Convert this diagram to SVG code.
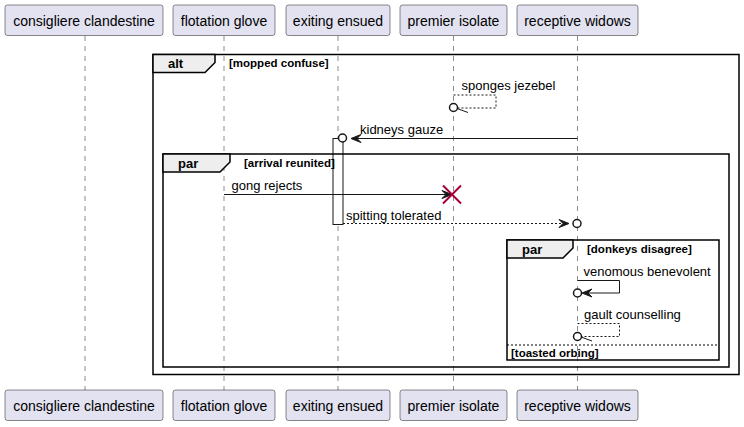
<svg xmlns="http://www.w3.org/2000/svg" width="744" height="427" viewBox="0 0 744 427">
<style>
.pbox{fill:#E2E2F0;stroke:#181818;stroke-width:0.5}
.ptxt{font-family:"Liberation Sans",Arial,sans-serif;font-size:14px;fill:#000;text-anchor:middle}
.life{stroke:#181818;stroke-width:0.5;stroke-dasharray:5,5;fill:none}
.frame{fill:none;stroke:#000;stroke-width:1.5}
.tab{fill:#EEEEEE;stroke:#000;stroke-width:1.5}
.ftitle{font-family:"Liberation Sans",Arial,sans-serif;font-size:13px;font-weight:bold;fill:#000}
.fcond{font-family:"Liberation Sans",Arial,sans-serif;font-size:11.5px;font-weight:bold;fill:#000}
.msg{stroke:#181818;stroke-width:1;fill:none}
.dash{stroke-dasharray:2,2}
.head{fill:#181818;stroke:#181818;stroke-width:1}
.circ{fill:#fff;stroke:#181818;stroke-width:1.5}
.mtxt{font-family:"Liberation Sans",Arial,sans-serif;font-size:13px;fill:#000}
</style>
<g id="lifelines">
<line class="life" x1="85" y1="36" x2="85" y2="390"/>
<line class="life" x1="224" y1="36" x2="224" y2="390"/>
<line class="life" x1="338" y1="36" x2="338" y2="390"/>
<line class="life" x1="453.5" y1="36" x2="453.5" y2="390"/>
<line class="life" x1="577.5" y1="36" x2="577.5" y2="390"/>
</g>
<g id="p1"><rect class="pbox" x="5" y="5" width="158" height="30.5" rx="2.5"/><text class="ptxt" x="84" y="25.5">consigliere clandestine</text>
<rect class="pbox" x="5" y="390" width="158" height="30.5" rx="2.5"/><text class="ptxt" x="84" y="410.5">consigliere clandestine</text></g>
<g id="p2"><rect class="pbox" x="173" y="5" width="102" height="30.5" rx="2.5"/><text class="ptxt" x="224" y="25.5">flotation glove</text>
<rect class="pbox" x="173" y="390" width="102" height="30.5" rx="2.5"/><text class="ptxt" x="224" y="410.5">flotation glove</text></g>
<g id="p3"><rect class="pbox" x="286" y="5" width="104" height="30.5" rx="2.5"/><text class="ptxt" x="338" y="25.5">exiting ensued</text>
<rect class="pbox" x="286" y="390" width="104" height="30.5" rx="2.5"/><text class="ptxt" x="338" y="410.5">exiting ensued</text></g>
<g id="p4"><rect class="pbox" x="400" y="5" width="107" height="30.5" rx="2.5"/><text class="ptxt" x="453.5" y="25.5">premier isolate</text>
<rect class="pbox" x="400" y="390" width="107" height="30.5" rx="2.5"/><text class="ptxt" x="453.5" y="410.5">premier isolate</text></g>
<g id="p5"><rect class="pbox" x="517" y="5" width="121" height="30.5" rx="2.5"/><text class="ptxt" x="577.5" y="25.5">receptive widows</text>
<rect class="pbox" x="517" y="390" width="121" height="30.5" rx="2.5"/><text class="ptxt" x="577.5" y="410.5">receptive widows</text></g>
<g id="activation"><rect x="333" y="138.5" width="10" height="86" fill="#fff" stroke="#181818" stroke-width="1"/></g>
<g id="alt">
<rect class="frame" x="153" y="54.5" width="586" height="320"/>
<path class="tab" d="M153,54.5 H215 V62.5 L205,72.5 H153 Z"/>
<text class="ftitle" x="168" y="68">alt</text>
<text class="fcond" x="229" y="67">[mopped confuse]</text>
</g>
<g id="par1">
<rect class="frame" x="163" y="154" width="566" height="213"/>
<path class="tab" d="M163,154 H230 V162 L220,172 H163 Z"/>
<text class="ftitle" x="178" y="168">par</text>
<text class="fcond" x="244" y="167">[arrival reunited]</text>
</g>
<g id="par2">
<rect class="frame" x="507" y="240" width="212" height="120"/>
<path class="tab" d="M507,240 H573 V248 L563,258 H507 Z"/>
<text class="ftitle" x="522" y="254">par</text>
<text class="fcond" x="587" y="253">[donkeys disagree]</text>
<line x1="507" y1="345" x2="719" y2="345" stroke="#000" stroke-width="1" stroke-dasharray="2,2"/>
<text class="fcond" x="511" y="356.5">[toasted orbing]</text>
</g>
<g id="connectors">
<path class="msg dash" d="M453.5,95 H496 V108 H458"/>
<line class="msg" x1="457" y1="108.5" x2="468" y2="112.5"/>
<circle class="circ" cx="453.5" cy="107.5" r="4"/>
<text class="mtxt" x="461.5" y="90">sponges jezebel</text>

<line class="msg" x1="577.5" y1="138.5" x2="352" y2="138.5"/>
<polygon class="head" points="351,138.5 361,134.5 357,138.5 361,142.5"/>
<circle class="circ" cx="342.5" cy="138" r="4"/>
<text class="mtxt" x="360" y="134">kidneys gauze</text>

<line class="msg" x1="224" y1="194.5" x2="451" y2="194.5"/>
<polygon class="head" points="452,194.5 442,190.5 446,194.5 442,198.5"/>
<path d="M443,185.5 L461,203.5 M443,203.5 L461,185.5" stroke="#A80036" stroke-width="2" fill="none"/>
<text class="mtxt" x="231.5" y="190">gong rejects</text>

<line class="msg dash" x1="343" y1="223.5" x2="568" y2="223.5"/>
<polygon class="head" points="569,223.5 559,219.5 563,223.5 559,227.5"/>
<circle class="circ" cx="577" cy="223.5" r="4"/>
<text class="mtxt" x="346" y="219.5">spitting tolerated</text>

<path class="msg" d="M577.5,280.5 H619.5 V293 H584"/>
<polygon class="head" points="582,293 592,289 588,293 592,297"/>
<circle class="circ" cx="577.5" cy="293" r="4"/>
<text class="mtxt" x="583.5" y="276">venomous benevolent</text>

<path class="msg dash" d="M577.5,323.5 H619.5 V336.5 H582"/>
<line class="msg" x1="581" y1="337" x2="592" y2="341"/>
<circle class="circ" cx="577.5" cy="336.5" r="4"/>
<text class="mtxt" x="584" y="319">gault counselling</text>
</g>
</svg>
